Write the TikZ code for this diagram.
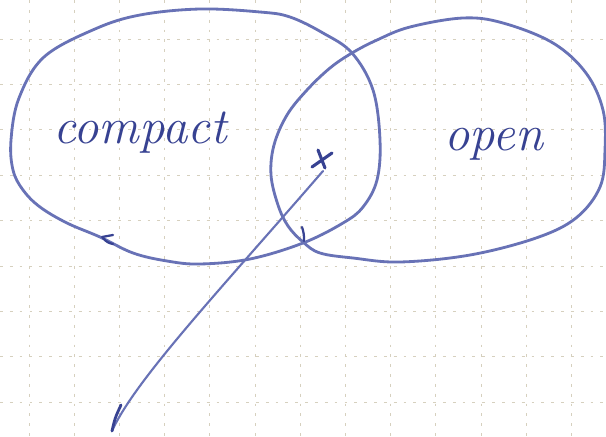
\documentclass[tikz,border=0pt]{standalone}
\usepackage{tikz}
\usetikzlibrary{positioning,calc}
\definecolor{inkBlue}{RGB}{104,114,182}
\definecolor{inkDark}{RGB}{55,66,146}
\definecolor{gridBeige}{RGB}{214,208,190}

\begin{document}
\begin{tikzpicture}[x=0.025cm, y=-0.025cm,
    gridline/.style={gridBeige, line width=0.5pt, dash pattern=on 2pt off 5pt},
    pen/.style={inkBlue, line width=2pt, line cap=round, line join=round},
    nib/.style={inkDark, line width=2.2pt, line cap=round},
    word/.style={inkDark, font=\fontsize{36}{36}\selectfont\itshape, inner sep=0pt, anchor=base}]
  \fill[white] (0,0) rectangle (606,436);
  \useasboundingbox (0,0) rectangle (606,436);
  % squared paper
  \foreach \i in {0,...,12}
    \draw[gridline] ({29+45.2*\i},0) -- ++(0,436);
  \foreach \j in {0,...,8}
    \draw[gridline] (0,{39+45.4*\j}) -- ++(606,0);
  % compact set
  \draw[pen] plot[smooth cycle, tension=0.6] coordinates {
    (200,9) (260,12) (290,17) (323,33) (352,53) (373,90) (380,140) (377,180)
    (363,207) (343,223) (303,243) (250,259) (200,264) (167,261) (133,253)
    (100,237) (67,223) (40,207) (23,190) (13,170) (11,140) (19,98)
    (44,57) (95,29) (140,15)};
  % open set
  \draw[pen] plot[smooth cycle, tension=0.6] coordinates {
    (410,27) (463,18) (503,23) (553,43) (586,73) (603,110) (605,150) (600,187)
    (576,218) (536,238) (470,255) (400,262) (353,258) (320,253) (303,242)
    (288,226) (278,205) (271,175) (274,145) (287,115) (307,90) (330,68)
    (352,53) (377,40)};
  % orientation ticks
  \draw[nib, line width=1.6pt] (102,237) -- (113,235);
  \draw[nib, line width=1.6pt] (103,238) to[bend right=20] (113,244);
  \draw[nib, line width=1.6pt] (302,227) to[bend left=10] (304,241);
  \node[word] (compact) at (140,143) {compact};
  \node[word] (open) at (494,150) {open};
  % the point and its pointer
  \coordinate (pt) at (322,160);
  \coordinate (foot) at (323,171);
  \coordinate (tail) at (112,431);
  \draw[nib] ($(pt)+(-10,7)$) -- ($(pt)+(10,-7)$);
  \draw[nib] ($(pt)+(-4,-10)$) -- ($(pt)+(3,8)$);
  \draw[pen, line width=1.5pt] (foot) .. controls (220,290) and (135,380) .. (tail);
  \draw[nib, line width=2pt] (121,405) .. controls (115,418) .. (tail);
\end{tikzpicture}
\end{document}
